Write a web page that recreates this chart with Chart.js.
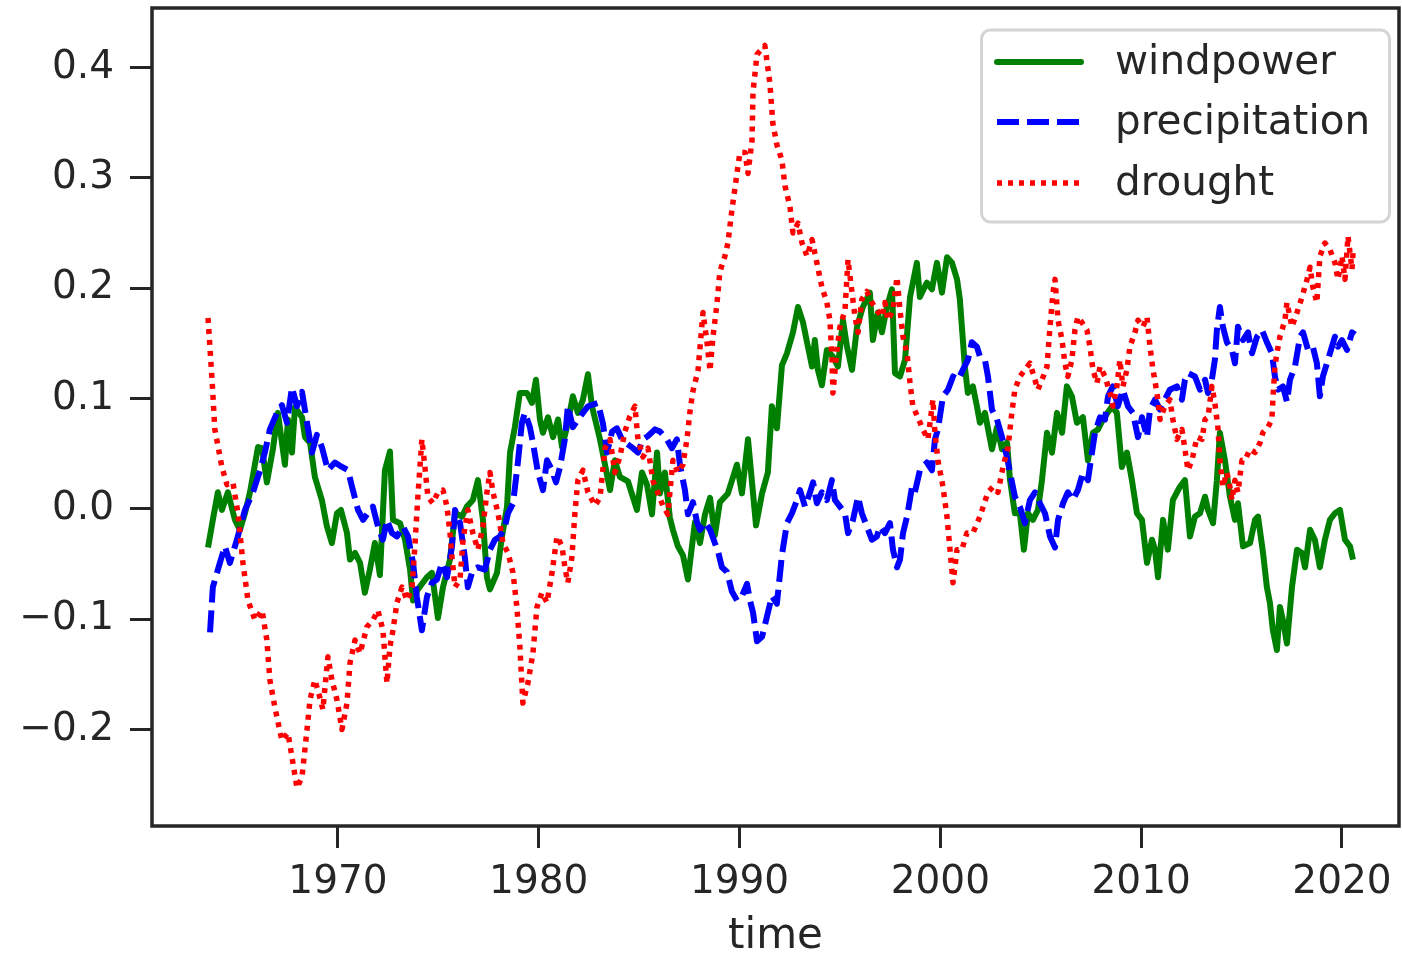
<!DOCTYPE html>
<html lang="en">
<head>
<meta charset="UTF-8">
<title>windpower / precipitation / drought</title>
<script src="https://cdn.jsdelivr.net/npm/chart.js"></script>
<style>
  html, body { margin: 0; padding: 0; background: #fff; }
  #chart { display: block; }
</style>
</head>
<body>
<canvas id="chart" width="1402" height="960"></canvas>
<script>
// series: [year, value]
var windpower = [
  [1963.53,-0.035],[1963.77,-0.010],[1964.02,0.015],[1964.22,-0.001],[1964.52,0.015],[1964.87,-0.010],
  [1965.12,-0.019],[1965.37,-0.004],[1965.62,0.015],[1966.02,0.056],[1966.22,0.055],[1966.46,0.024],
  [1966.76,0.054],[1967.01,0.087],[1967.36,0.040],[1967.51,0.081],[1967.71,0.051],[1967.86,0.092],
  [1968.21,0.083],[1968.36,0.065],[1968.61,0.060],[1968.85,0.029],[1969.20,0.008],[1969.45,-0.016],
  [1969.70,-0.031],[1969.95,-0.004],[1970.15,-0.001],[1970.45,-0.022],[1970.60,-0.046],[1970.85,-0.040],
  [1971.10,-0.049],[1971.34,-0.076],[1971.59,-0.055],[1971.84,-0.031],[1972.09,-0.060],[1972.34,0.035],
  [1972.59,0.052],[1972.74,-0.010],[1973.09,-0.013],[1973.34,-0.028],[1973.59,-0.055],[1973.74,-0.083],
  [1973.98,-0.073],[1974.43,-0.062],[1974.68,-0.058],[1974.98,-0.099],[1975.23,-0.071],[1975.58,-0.046],
  [1975.83,-0.004],[1976.18,-0.007],[1976.42,0.002],[1976.72,0.008],[1976.97,0.026],[1977.22,-0.010],
  [1977.42,-0.062],[1977.57,-0.073],[1977.92,-0.058],[1978.17,-0.025],[1978.42,0.002],[1978.57,0.051],
  [1978.81,0.074],[1979.06,0.105],[1979.41,0.105],[1979.66,0.096],[1979.86,0.117],[1980.06,0.081],
  [1980.21,0.069],[1980.46,0.083],[1980.71,0.065],[1980.96,0.081],[1981.16,0.056],[1981.40,0.074],
  [1981.70,0.102],[1981.95,0.087],[1982.20,0.099],[1982.45,0.122],[1982.65,0.093],[1983.05,0.063],
  [1983.30,0.040],[1983.55,0.017],[1983.79,0.044],[1984.04,0.029],[1984.44,0.025],[1984.89,-0.001],
  [1985.14,0.033],[1985.39,0.022],[1985.64,-0.005],[1985.89,0.051],[1986.04,0.014],[1986.28,0.033],
  [1986.53,-0.008],[1986.68,-0.019],[1986.93,-0.034],[1987.18,-0.042],[1987.43,-0.064],[1987.63,-0.034],
  [1987.78,-0.012],[1988.03,-0.031],[1988.28,-0.005],[1988.53,0.010],[1988.77,-0.024],[1989.02,0.006],
  [1989.42,0.014],[1989.87,0.040],[1990.12,0.014],[1990.42,0.063],[1990.82,-0.015],[1991.12,0.014],
  [1991.41,0.033],[1991.61,0.093],[1991.86,0.073],[1992.11,0.130],[1992.36,0.141],[1992.66,0.160],
  [1992.91,0.183],[1993.16,0.169],[1993.36,0.151],[1993.61,0.129],[1993.75,0.153],[1993.90,0.126],
  [1994.10,0.112],[1994.35,0.144],[1994.65,0.138],[1994.90,0.129],[1995.15,0.171],[1995.35,0.147],
  [1995.60,0.126],[1995.85,0.165],[1996.14,0.183],[1996.49,0.196],[1996.64,0.153],[1996.89,0.178],
  [1997.09,0.160],[1997.34,0.183],[1997.59,0.199],[1997.74,0.123],[1997.99,0.120],[1998.24,0.135],
  [1998.49,0.192],[1998.83,0.223],[1998.98,0.192],[1999.33,0.205],[1999.58,0.199],[1999.83,0.223],
  [2000.08,0.196],[2000.33,0.228],[2000.58,0.223],[2000.83,0.208],[2000.97,0.190],[2001.22,0.129],
  [2001.37,0.105],[2001.62,0.111],[2001.82,0.093],[2001.97,0.078],[2002.22,0.087],[2002.57,0.054],
  [2002.82,0.074],[2003.07,0.054],[2003.32,0.060],[2003.47,0.026],[2003.71,-0.004],[2003.96,-0.004],
  [2004.16,-0.037],[2004.36,-0.004],[2004.61,-0.010],[2004.86,-0.001],[2005.06,0.026],[2005.31,0.069],
  [2005.56,0.051],[2005.81,0.087],[2006.06,0.069],[2006.30,0.111],[2006.55,0.102],[2006.80,0.078],
  [2007.10,0.083],[2007.35,0.044],[2007.60,0.069],[2007.85,0.072],[2008.10,0.081],[2008.55,0.093],
  [2008.79,0.087],[2009.04,0.038],[2009.29,0.051],[2009.54,0.026],[2009.79,-0.004],[2010.04,-0.010],
  [2010.29,-0.049],[2010.54,-0.028],[2010.69,-0.037],[2010.84,-0.062],[2011.09,-0.010],[2011.33,-0.037],
  [2011.58,0.008],[2011.93,0.020],[2012.18,0.026],[2012.43,-0.025],[2012.68,-0.007],[2012.93,-0.004],
  [2013.18,0.011],[2013.33,-0.001],[2013.58,-0.013],[2013.77,0.026],[2013.92,0.069],[2014.17,0.044],
  [2014.42,0.011],[2014.67,-0.010],[2014.82,0.005],[2015.07,-0.034],[2015.42,-0.031],[2015.67,-0.010],
  [2015.82,-0.007],[2016.07,-0.040],[2016.26,-0.071],[2016.41,-0.085],[2016.56,-0.110],[2016.76,-0.128],
  [2016.91,-0.089],[2017.06,-0.101],[2017.26,-0.122],[2017.51,-0.071],[2017.76,-0.037],[2018.01,-0.040],
  [2018.16,-0.053],[2018.41,-0.019],[2018.65,-0.028],[2018.90,-0.053],[2019.15,-0.028],[2019.40,-0.010],
  [2019.65,-0.004],[2019.90,-0.001],[2020.15,-0.028],[2020.40,-0.034],[2020.55,-0.046]
];

var precipitation = [
  [1963.63,-0.112],[1963.77,-0.071],[1964.12,-0.049],[1964.37,-0.034],[1964.62,-0.049],[1964.97,-0.028],
  [1965.37,-0.001],[1965.77,0.015],[1966.12,0.035],[1966.36,0.051],[1966.61,0.072],[1966.96,0.087],
  [1967.21,0.094],[1967.46,0.078],[1967.71,0.110],[1967.96,0.093],[1968.21,0.106],[1968.46,0.078],
  [1968.71,0.051],[1968.95,0.067],[1969.20,0.056],[1969.50,0.035],[1969.85,0.042],[1970.20,0.038],
  [1970.50,0.035],[1970.70,0.020],[1971.00,-0.001],[1971.25,-0.010],[1971.49,-0.004],[1971.74,0.002],
  [1971.99,-0.016],[1972.24,-0.028],[1972.44,-0.010],[1972.69,-0.022],[1972.94,-0.025],[1973.24,-0.016],
  [1973.49,-0.025],[1973.74,-0.049],[1973.93,-0.080],[1974.18,-0.110],[1974.43,-0.080],[1974.68,-0.067],
  [1974.93,-0.064],[1975.18,-0.049],[1975.43,-0.062],[1975.68,-0.034],[1975.83,-0.001],[1976.08,-0.013],
  [1976.32,-0.044],[1976.47,-0.071],[1976.72,-0.055],[1976.97,-0.053],[1977.32,-0.055],[1977.57,-0.037],
  [1977.82,-0.028],[1978.07,-0.025],[1978.32,-0.016],[1978.47,-0.004],[1978.72,0.005],[1978.96,0.042],
  [1979.16,0.078],[1979.31,0.087],[1979.56,0.074],[1979.71,0.060],[1979.96,0.033],[1980.21,0.017],
  [1980.41,0.044],[1980.66,0.035],[1980.86,0.024],[1981.06,0.038],[1981.30,0.063],[1981.45,0.093],
  [1981.70,0.074],[1981.95,0.081],[1982.20,0.087],[1982.45,0.093],[1982.95,0.096],[1983.20,0.077],
  [1983.40,0.051],[1983.65,0.070],[1983.89,0.073],[1984.14,0.063],[1984.39,0.059],[1984.69,0.055],
  [1984.94,0.051],[1985.19,0.063],[1985.44,0.066],[1985.79,0.072],[1986.04,0.070],[1986.38,0.063],
  [1986.63,0.055],[1986.88,0.063],[1987.03,0.040],[1987.28,0.017],[1987.43,-0.005],[1987.68,0.006],
  [1987.88,-0.012],[1988.03,-0.019],[1988.28,-0.012],[1988.53,-0.019],[1988.77,-0.031],[1988.92,-0.038],
  [1989.12,-0.053],[1989.37,-0.057],[1989.62,-0.075],[1989.87,-0.083],[1990.12,-0.079],[1990.37,-0.068],
  [1990.52,-0.083],[1990.67,-0.094],[1990.87,-0.120],[1991.12,-0.116],[1991.36,-0.098],[1991.61,-0.079],
  [1991.86,-0.086],[1992.11,-0.042],[1992.36,-0.013],[1992.61,-0.004],[1992.86,0.008],[1993.01,0.017],
  [1993.26,0.002],[1993.51,0.015],[1993.66,0.024],[1993.85,0.005],[1994.10,0.015],[1994.35,0.008],
  [1994.60,0.026],[1994.75,0.008],[1995.00,0.002],[1995.25,-0.004],[1995.40,-0.022],[1995.65,-0.010],
  [1995.90,0.011],[1996.09,-0.004],[1996.34,-0.016],[1996.59,-0.028],[1996.84,-0.025],[1996.99,-0.016],
  [1997.24,-0.022],[1997.49,-0.013],[1997.64,-0.037],[1997.84,-0.053],[1997.99,-0.046],[1998.14,-0.022],
  [1998.34,-0.007],[1998.59,0.020],[1998.73,0.015],[1998.98,0.035],[1999.33,0.042],[1999.58,0.035],
  [1999.73,0.063],[1999.88,0.072],[2000.13,0.102],[2000.38,0.108],[2000.63,0.120],[2000.88,0.117],
  [2001.12,0.126],[2001.37,0.135],[2001.57,0.151],[2001.82,0.147],[2001.97,0.138],[2002.22,0.135],
  [2002.37,0.120],[2002.57,0.090],[2002.82,0.081],[2003.07,0.065],[2003.32,0.047],[2003.47,0.033],
  [2003.71,0.011],[2003.96,0.002],[2004.21,-0.013],[2004.46,0.008],[2004.71,0.015],[2004.96,0.005],
  [2005.21,-0.004],[2005.46,-0.025],[2005.71,-0.035],[2005.86,-0.010],[2006.11,0.005],[2006.35,0.015],
  [2006.60,0.008],[2006.85,0.017],[2007.10,0.033],[2007.35,0.026],[2007.55,0.051],[2007.70,0.069],
  [2007.95,0.083],[2008.20,0.081],[2008.35,0.102],[2008.59,0.111],[2008.84,0.093],[2009.09,0.108],
  [2009.34,0.093],[2009.59,0.087],[2009.84,0.065],[2010.04,0.083],[2010.29,0.065],[2010.44,0.090],
  [2010.69,0.099],[2010.94,0.090],[2011.18,0.099],[2011.43,0.108],[2011.78,0.111],[2012.03,0.099],
  [2012.18,0.117],[2012.33,0.123],[2012.68,0.120],[2012.93,0.108],[2013.18,0.117],[2013.33,0.105],
  [2013.52,0.117],[2013.67,0.135],[2013.77,0.162],[2013.92,0.183],[2014.07,0.165],[2014.27,0.151],
  [2014.52,0.144],[2014.67,0.132],[2014.82,0.165],[2015.07,0.153],[2015.32,0.160],[2015.52,0.141],
  [2015.77,0.156],[2016.02,0.162],[2016.26,0.151],[2016.51,0.141],[2016.66,0.120],[2016.81,0.108],
  [2017.06,0.111],[2017.26,0.097],[2017.41,0.117],[2017.66,0.129],[2017.91,0.156],[2018.06,0.160],
  [2018.31,0.144],[2018.55,0.147],[2018.75,0.132],[2018.90,0.102],[2019.05,0.120],[2019.25,0.132],
  [2019.40,0.141],[2019.65,0.156],[2019.80,0.147],[2020.00,0.153],[2020.25,0.144],[2020.50,0.160],
  [2020.65,0.158]
];

var drought = [
  [1963.53,0.173],[1963.73,0.117],[1963.87,0.072],[1964.22,0.038],[1964.47,0.022],[1964.77,0.024],
  [1965.02,-0.004],[1965.27,-0.049],[1965.52,-0.083],[1965.87,-0.101],[1966.22,-0.092],[1966.46,-0.119],
  [1966.61,-0.155],[1966.86,-0.180],[1967.21,-0.210],[1967.51,-0.203],[1967.71,-0.225],[1967.96,-0.253],
  [1968.21,-0.243],[1968.46,-0.200],[1968.61,-0.173],[1968.85,-0.155],[1969.10,-0.171],[1969.25,-0.182],
  [1969.50,-0.134],[1969.70,-0.155],[1969.95,-0.173],[1970.20,-0.200],[1970.45,-0.176],[1970.60,-0.140],
  [1970.85,-0.119],[1971.10,-0.131],[1971.44,-0.107],[1971.74,-0.101],[1971.99,-0.092],[1972.24,-0.110],
  [1972.44,-0.158],[1972.59,-0.125],[1972.74,-0.110],[1972.94,-0.085],[1973.19,-0.071],[1973.44,-0.083],
  [1973.69,-0.071],[1973.83,-0.034],[1973.98,0.011],[1974.18,0.063],[1974.33,0.038],[1974.48,0.011],
  [1974.73,0.005],[1974.98,0.015],[1975.23,0.017],[1975.43,0.002],[1975.58,-0.022],[1975.68,-0.044],
  [1975.83,-0.071],[1976.08,-0.064],[1976.23,-0.028],[1976.47,-0.001],[1976.72,-0.022],[1976.97,-0.037],
  [1977.22,-0.016],[1977.42,0.015],[1977.57,0.033],[1977.72,0.015],[1977.97,-0.004],[1978.22,-0.031],
  [1978.47,-0.040],[1978.72,-0.058],[1978.91,-0.089],[1979.06,-0.125],[1979.21,-0.176],[1979.46,-0.158],
  [1979.71,-0.131],[1979.91,-0.089],[1980.16,-0.076],[1980.41,-0.085],[1980.66,-0.058],[1980.91,-0.025],
  [1981.16,-0.034],[1981.30,-0.053],[1981.45,-0.067],[1981.65,-0.044],[1981.80,-0.004],[1981.95,0.026],
  [1982.20,0.035],[1982.45,0.015],[1982.80,0.003],[1983.05,0.010],[1983.30,0.055],[1983.55,0.063],
  [1983.79,0.033],[1984.04,0.047],[1984.29,0.070],[1984.54,0.084],[1984.79,0.093],[1984.94,0.063],
  [1985.19,0.047],[1985.44,0.055],[1985.69,0.025],[1985.94,0.014],[1986.18,0.003],[1986.43,-0.005],
  [1986.68,0.044],[1986.93,0.033],[1987.18,0.040],[1987.38,0.063],[1987.53,0.088],[1987.68,0.107],
  [1987.93,0.125],[1988.18,0.178],[1988.38,0.151],[1988.53,0.125],[1988.67,0.155],[1988.87,0.185],
  [1989.02,0.215],[1989.27,0.229],[1989.42,0.241],[1989.62,0.271],[1989.87,0.304],[1990.02,0.323],
  [1990.27,0.323],[1990.42,0.304],[1990.62,0.334],[1990.67,0.378],[1990.87,0.412],[1991.26,0.420],
  [1991.51,0.386],[1991.66,0.349],[1991.86,0.330],[1992.11,0.316],[1992.26,0.293],[1992.51,0.274],
  [1992.66,0.250],[1992.91,0.259],[1993.11,0.241],[1993.36,0.229],[1993.61,0.244],[1993.85,0.223],
  [1994.10,0.201],[1994.35,0.187],[1994.50,0.171],[1994.60,0.138],[1994.65,0.105],[1994.85,0.144],
  [1995.00,0.165],[1995.25,0.180],[1995.40,0.226],[1995.60,0.196],[1995.75,0.174],[1995.90,0.160],
  [1996.09,0.190],[1996.34,0.197],[1996.59,0.187],[1996.84,0.180],[1997.09,0.174],[1997.24,0.187],
  [1997.39,0.171],[1997.64,0.180],[1997.84,0.210],[1997.99,0.180],[1998.14,0.156],[1998.34,0.141],
  [1998.49,0.114],[1998.63,0.093],[1998.88,0.083],[1999.13,0.072],[1999.38,0.063],[1999.63,0.099],
  [1999.73,0.069],[1999.88,0.044],[2000.13,0.020],[2000.33,-0.007],[2000.48,-0.037],[2000.63,-0.067],
  [2000.83,-0.037],[2001.07,-0.037],[2001.32,-0.022],[2001.62,-0.022],[2001.97,-0.007],[2002.37,0.015],
  [2002.62,0.020],[2002.87,0.015],[2003.12,0.038],[2003.37,0.056],[2003.56,0.087],[2003.71,0.108],
  [2003.96,0.120],[2004.21,0.126],[2004.46,0.132],[2004.71,0.117],[2004.86,0.108],[2005.06,0.117],
  [2005.31,0.129],[2005.46,0.165],[2005.61,0.196],[2005.71,0.208],[2005.86,0.171],[2006.06,0.153],
  [2006.20,0.132],[2006.35,0.120],[2006.55,0.135],[2006.70,0.162],[2006.85,0.174],[2007.05,0.169],
  [2007.30,0.162],[2007.45,0.147],[2007.60,0.126],[2007.80,0.114],[2007.95,0.129],[2008.20,0.120],
  [2008.45,0.105],[2008.59,0.093],[2008.79,0.111],[2008.94,0.135],[2009.09,0.111],[2009.29,0.126],
  [2009.44,0.147],[2009.69,0.160],[2009.84,0.171],[2010.09,0.165],[2010.29,0.174],[2010.44,0.147],
  [2010.59,0.126],[2010.79,0.105],[2010.94,0.081],[2011.18,0.093],[2011.43,0.099],[2011.58,0.081],
  [2011.78,0.063],[2012.03,0.072],[2012.18,0.054],[2012.33,0.035],[2012.53,0.044],[2012.78,0.065],
  [2013.03,0.063],[2013.18,0.081],[2013.33,0.083],[2013.52,0.111],[2013.67,0.096],[2013.82,0.074],
  [2013.92,0.044],[2014.07,0.020],[2014.27,0.033],[2014.42,0.020],[2014.52,0.008],[2014.67,0.026],
  [2014.82,0.015],[2015.02,0.044],[2015.17,0.044],[2015.42,0.054],[2015.67,0.051],[2015.92,0.060],
  [2016.06,0.069],[2016.31,0.074],[2016.51,0.081],[2016.56,0.099],[2016.66,0.129],[2016.76,0.141],
  [2016.91,0.156],[2017.16,0.171],[2017.26,0.187],[2017.51,0.165],[2017.76,0.178],[2018.01,0.192],
  [2018.26,0.208],[2018.41,0.219],[2018.55,0.201],[2018.75,0.187],[2018.90,0.229],[2019.15,0.241],
  [2019.40,0.235],[2019.65,0.223],[2019.80,0.208],[2020.00,0.229],[2020.15,0.208],[2020.30,0.247],
  [2020.50,0.217],[2020.55,0.232]
];

var seriesNames = ['windpower', 'precipitation', 'drought'];
var xTicks = [1970, 1980, 1990, 2000, 2010, 2020];
var yTicks = [-0.2, -0.1, 0.0, 0.1, 0.2, 0.3, 0.4];

var ink = '#262626';
var fontFam = "'DejaVu Sans', 'Liberation Sans', sans-serif";

function toPoints(arr) {
  return arr.map(function (p) { return { x: p[0], y: p[1] }; });
}

// four spines, drawn over the lines like matplotlib does
var spines = {
  id: 'spines',
  afterDatasetsDraw: function (chart) {
    var a = chart.chartArea, c = chart.ctx;
    c.save();
    c.strokeStyle = ink;
    c.lineWidth = 3.5;
    c.strokeRect(a.left, a.top, a.right - a.left, a.bottom - a.top);
    c.restore();
  }
};

// legend box in the upper right corner
var boxLegend = {
  id: 'boxLegend',
  afterDraw: function (chart) {
    var c = chart.ctx;
    c.save();
    c.beginPath();
    c.roundRect(981.5, 30, 408, 192, 9);
    c.fillStyle = 'rgba(255,255,255,0.85)';
    c.fill();
    c.lineWidth = 3;
    c.strokeStyle = '#d4d4d4';
    c.stroke();
    var rows = [62, 122, 183];
    chart.data.datasets.forEach(function (ds, i) {
      c.beginPath();
      c.strokeStyle = ds.borderColor;
      c.lineWidth = ds.borderWidth;
      c.setLineDash(ds.borderDash || []);
      c.lineCap = ds.borderDash ? 'butt' : 'round';
      c.moveTo(997, rows[i]);
      c.lineTo(1081, rows[i]);
      c.stroke();
      c.setLineDash([]);
      c.fillStyle = ink;
      c.font = '40.5px ' + fontFam;
      c.textBaseline = 'middle';
      c.textAlign = 'left';
      c.fillText(ds.label, 1115, rows[i] + 1);
    });
    c.restore();
  }
};

Chart.defaults.font.family = fontFam;
Chart.defaults.color = ink;

new Chart(document.getElementById('chart'), {
  type: 'line',
  data: {
    datasets: [
      { label: seriesNames[0], data: toPoints(windpower), borderColor: '#008000', borderWidth: 6, order: 2 },
      { label: seriesNames[1], data: toPoints(precipitation), borderColor: '#0000ff', borderWidth: 6, borderDash: [22, 8], order: 1 },
      { label: seriesNames[2], data: toPoints(drought), borderColor: '#ff0000', borderWidth: 5.5, borderDash: [5, 6], order: 0 }
    ]
  },
  options: {
    responsive: false,
    animation: false,
    devicePixelRatio: 1,
    layout: { padding: { top: 8, right: 3, left: 0, bottom: 0 } },
    elements: {
      point: { radius: 0, hoverRadius: 0 },
      line: { tension: 0, fill: false, borderJoinStyle: 'round', borderCapStyle: 'butt' }
    },
    plugins: {
      legend: { display: false },
      tooltip: { enabled: false }
    },
    scales: {
      x: {
        type: 'linear',
        min: 1960.74,
        max: 2022.84,
        afterBuildTicks: function (s) { s.ticks = xTicks.map(function (v) { return { value: v }; }); },
        afterFit: function (s) { s.height = 134; s.paddingLeft = 0; s.paddingRight = 0; },
        border: { display: false },
        grid: { drawOnChartArea: false, drawTicks: true, tickLength: 22, tickWidth: 3, tickColor: ink },
        ticks: { font: { size: 39 }, color: ink, padding: 11, maxRotation: 0, autoSkip: false,
                 callback: function (v) { return String(v); } },
        title: { display: true, text: 'time', font: { size: 42 }, color: ink, padding: { top: 0, bottom: -2 } }
      },
      y: {
        type: 'linear',
        min: -0.2875,
        max: 0.454,
        afterBuildTicks: function (s) { s.ticks = yTicks.map(function (v) { return { value: v }; }); },
        afterFit: function (s) { s.width = 152; s.paddingTop = 0; s.paddingBottom = 0; },
        border: { display: false },
        grid: { drawOnChartArea: false, drawTicks: true, tickLength: 22, tickWidth: 3, tickColor: ink },
        ticks: { font: { size: 39 }, color: ink, padding: 16, autoSkip: false,
                 callback: function (v) { return v < 0 ? '\u2212' + Math.abs(v).toFixed(1) : v.toFixed(1); } }
      }
    }
  },
  plugins: [spines, boxLegend]
});
</script>
</body>
</html>
